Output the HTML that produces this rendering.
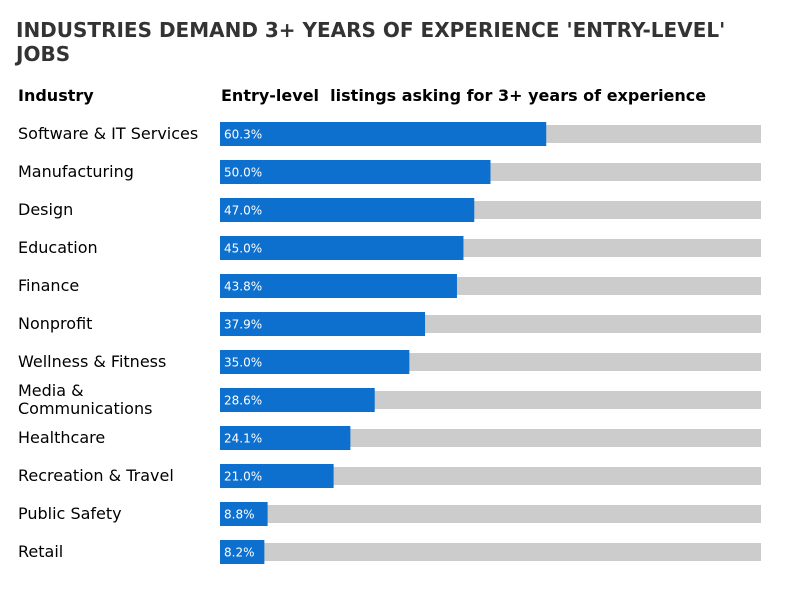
<!DOCTYPE html>
<html><head><meta charset="utf-8"><style>
body{margin:0;background:#fff;width:799px;height:599px;overflow:hidden;font-family:"DejaVu Sans","Liberation Sans",sans-serif}
</style></head><body>
<svg id="chart" width="799" height="599" xmlns="http://www.w3.org/2000/svg" font-family="DejaVu Sans, Liberation Sans, sans-serif">
<text x="16" y="37" font-size="20" font-weight="bold" fill="#333">INDUSTRIES DEMAND 3+ YEARS OF EXPERIENCE 'ENTRY-LEVEL'</text>
<text x="16" y="61" font-size="20" font-weight="bold" fill="#333">JOBS</text>
<text x="18" y="101" font-size="16" font-weight="bold" fill="#000">Industry</text>
<text x="221" y="101" font-size="16" font-weight="bold" fill="#000" xml:space="preserve">Entry-level  listings asking for 3+ years of experience</text>
<g id="rows"></g>
</svg>
<script>
const categories=["Software & IT Services","Manufacturing","Design","Education","Finance","Nonprofit","Wellness & Fitness","Media & Communications","Healthcare","Recreation & Travel","Public Safety","Retail"];
const values=[60.3,50.0,47.0,45.0,43.8,37.9,35.0,28.6,24.1,21.0,8.8,8.2];
const x0=220,fullW=541,y0=134,step=38;
const xs=v=>fullW*v/100;
const ys=i=>y0+i*step;
const g=document.getElementById('rows');
const NS="http://www.w3.org/2000/svg";
function mk(t,a){const e=document.createElementNS(NS,t);for(const k in a)e.setAttribute(k,a[k]);return e;}
categories.forEach((c,i)=>{
  const cy=ys(i);
  const row=mk('g',{});
  
  
  if(c==="Media & Communications"){
    const t=mk('text',{x:18,y:cy-4,'font-size':16,fill:'#000'});
    
    
    const a=mk('tspan',{x:18});a.textContent="Media &";
    const b=mk('tspan',{x:18,dy:18});b.textContent="Communications";
    t.appendChild(a);t.appendChild(b);row.appendChild(t);
  } else {
    const t=mk('text',{x:18,y:cy+5,'font-size':16,fill:'#000'});
    
    
    t.textContent=c;row.appendChild(t);
  }
  const bg=mk('rect',{x:x0,y:cy-9,width:fullW,height:18,fill:'#cccccc'});
  
  
  row.appendChild(bg);
  const bar=mk('rect',{x:x0,y:cy-12,width:xs(values[i]),height:24,fill:'#0d6fce'});
  
  
  row.appendChild(bar);
  const vt=mk('text',{x:x0+4,y:cy+4.5,'font-size':12,fill:'#fff'});
  
  
  vt.textContent=values[i].toFixed(1)+'%';
  row.appendChild(vt);
  g.appendChild(row);
});
</script>
</body></html>
